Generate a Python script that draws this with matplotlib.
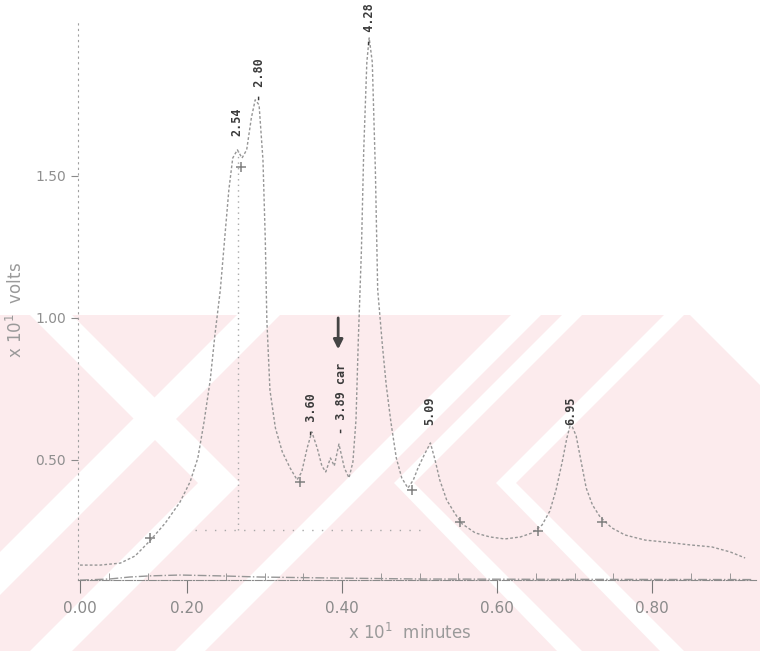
import matplotlib.pyplot as plt
from matplotlib.patches import Polygon, Rectangle

# retention time (x 10 min) and detector response (x 10 V)
t = [0.062, 0.088, 0.114, 0.133, 0.152, 0.172, 0.191, 0.204, 0.214, 0.222,
     0.230, 0.236, 0.243, 0.249, 0.254, 0.259, 0.265, 0.271, 0.277, 0.283,
     0.288, 0.293, 0.298, 0.301, 0.303, 0.307, 0.314, 0.323, 0.333, 0.342,
     0.348, 0.355, 0.361, 0.368, 0.374, 0.379, 0.385, 0.390, 0.396, 0.403,
     0.409, 0.414, 0.418, 0.421, 0.425, 0.428, 0.432, 0.435, 0.439, 0.443,
     0.446, 0.452, 0.457, 0.463, 0.470, 0.477, 0.485, 0.492, 0.498, 0.506,
     0.514, 0.520, 0.526, 0.535, 0.546, 0.555, 0.572, 0.591, 0.610, 0.630,
     0.645, 0.658, 0.668, 0.676, 0.684, 0.690, 0.695, 0.702, 0.708, 0.715,
     0.723, 0.733, 0.748, 0.765, 0.791, 0.817, 0.849, 0.877, 0.901, 0.920]
v = [0.130, 0.130, 0.137, 0.162, 0.215, 0.278, 0.352, 0.423, 0.507, 0.634,
     0.782, 0.940, 1.099, 1.292, 1.451, 1.563, 1.592, 1.563, 1.592, 1.704,
     1.768, 1.750, 1.556, 1.275, 0.993, 0.746, 0.613, 0.528, 0.472, 0.430,
     0.458, 0.542, 0.599, 0.542, 0.479, 0.458, 0.507, 0.479, 0.556, 0.472,
     0.437, 0.493, 0.641, 0.923, 1.239, 1.592, 1.901, 1.986, 1.901, 1.521,
     1.099, 0.905, 0.764, 0.634, 0.507, 0.437, 0.401, 0.430, 0.472, 0.518,
     0.560, 0.500, 0.430, 0.359, 0.310, 0.275, 0.243, 0.229, 0.222, 0.229,
     0.243, 0.271, 0.320, 0.394, 0.493, 0.577, 0.630, 0.585, 0.500, 0.401,
     0.342, 0.299, 0.261, 0.236, 0.218, 0.211, 0.201, 0.194, 0.176, 0.155]

# second (blank) trace running along the bottom
t_blank = [0.062, 0.100, 0.126, 0.152, 0.191, 0.243, 0.294, 0.372, 0.500, 0.650, 0.930]
v_blank = [0.077, 0.081, 0.088, 0.092, 0.095, 0.092, 0.088, 0.085, 0.081, 0.080, 0.079]

# integration event marks
t_marks = [0.152, 0.270, 0.346, 0.490, 0.552, 0.653, 0.735]
v_marks = [0.225, 1.532, 0.423, 0.394, 0.282, 0.250, 0.282]

# peak labels: text, x, top y
peak_text = ["2.54", "- 2.80", "- 3.60", "- 3.89 car", "- 4.28", "5.09", "6.95"]
peak_x = [0.264, 0.294, 0.361, 0.399, 0.435, 0.513, 0.695]
peak_y = [1.740, 1.915, 0.736, 0.842, 2.109, 0.725, 0.722]

# drawn baseline under the big peaks
base_t = [0.210, 0.507]
base_v = [0.254, 0.254]
drop_t = 0.266
drop_v = [0.254, 1.592]

xticks = [0.062, 0.20, 0.40, 0.60, 0.80]
xlabels = ["0.00", "0.20", "0.40", "0.60", "0.80"]
yticks = [0.50, 1.00, 1.50]
ylabels = ["0.50", "1.00", "1.50"]

W, H = 760, 651
fig = plt.figure(figsize=(7.6, 6.51), dpi=100)

# pink watermark of the scanned page (pixel coords)
pink = "#fcebed"
fig.patches.append(Rectangle((0, 0), 1, 1 - 315 / H, transform=fig.transFigure,
                             facecolor=pink, edgecolor="none", zorder=-2))
white_bits = [
    [(0, 552), (0, 595), (280, 315), (237, 315)],
    [(30, 315), (72, 315), (240, 483), (72, 651), (30, 651), (198, 483)],
    [(175, 651), (205, 651), (541, 315), (511, 315)],
    [(562, 315), (582, 315), (414, 483), (582, 651), (557, 651), (394, 483)],
    [(664, 315), (684, 315), (516, 483), (684, 651), (660, 651), (496, 483)],
    [(690, 315), (760, 315), (760, 385)],
]
for pts in white_bits:
    fig.patches.append(Polygon([(x / W, 1 - y / H) for x, y in pts], closed=True,
                               transform=fig.transFigure, facecolor="white",
                               edgecolor="none", zorder=-1))

ax = fig.add_axes([78 / W, 1 - 580 / H, (756 - 78) / W, (580 - 20) / H])
ax.patch.set_alpha(0)
ax.set_xlim(0.0594, 0.934)
ax.set_ylim(0.0775, 2.049)

trace_c = "#969696"
ax.plot(t, v, color=trace_c, lw=1.0, ls=(0, (2, 1.5)))
ax.plot(t_blank, v_blank, color=trace_c, lw=1.0, ls="-.")
ax.plot(base_t, base_v, color="#a8a8a8", lw=1.0, ls=(0, (1, 6)))
ax.plot([drop_t, drop_t], drop_v, color="#a8a8a8", lw=1.0, ls=(0, (1, 3)))
ax.plot(t_marks, v_marks, ls="none", marker="+", ms=7, mew=1.1, color="#808080")

for s, x, y in zip(peak_text, peak_x, peak_y):
    ax.text(x, y, s, rotation=90, ha="center", va="top", fontsize=8.5,
            family="DejaVu Sans Mono", weight="bold", color="#3a3a3a")

ax.annotate("", xy=(0.395, 0.88), xytext=(0.395, 1.01),
            arrowprops=dict(arrowstyle="-|>", color="#444444", lw=2, mutation_scale=14))

for side in ["top", "right"]:
    ax.spines[side].set_visible(False)
ax.spines["left"].set_linestyle((0, (1, 4)))
ax.spines["left"].set_color("#a0a0a0")
ax.spines["bottom"].set_linestyle("-.")
ax.spines["bottom"].set_color("#8a8a8a")

ax.set_xticks(xticks)
ax.set_xticklabels(xlabels)
ax.set_xticks([0.10, 0.15, 0.25, 0.30, 0.35, 0.45, 0.50, 0.55, 0.65, 0.70, 0.75, 0.85, 0.90], minor=True)
ax.tick_params(axis="x", which="major", direction="out", length=9, color="#777777",
               labelsize=11, labelcolor="#8a8a8a", pad=6)
ax.tick_params(axis="x", which="minor", direction="in", length=5, color="#8a8a8a")
ax.set_yticks(yticks)
ax.set_yticklabels(ylabels)
ax.tick_params(axis="y", direction="out", length=5, color="#8a8a8a",
               labelsize=10, labelcolor="#8f8f8f")

fig.text(410 / W, 1 - 633 / H, "x 10$^{1}$  minutes", ha="center", va="center",
         fontsize=12, color="#9a9a9a")
fig.text(16 / W, 1 - 310 / H, "x 10$^{1}$  volts", ha="center", va="center",
         rotation=90, fontsize=12, color="#9a9a9a")

fig.savefig("out.png", dpi=100)
